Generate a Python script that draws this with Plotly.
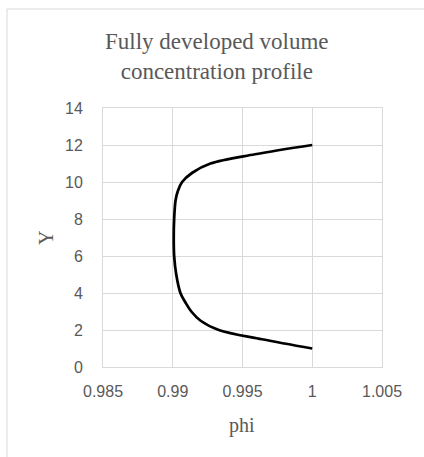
import plotly.graph_objects as go

# Data
y_vals = [1, 1.5, 2, 2.5, 3, 3.5, 4, 5, 6, 7, 8, 9, 9.5, 10, 10.5, 11, 11.5, 12]
phi_vals = [1.0, 0.9964, 0.9933, 0.9920, 0.99133, 0.9909, 0.99055, 0.99025, 0.9901,
            0.99007, 0.9901, 0.9902, 0.99036, 0.99067, 0.9914, 0.9927, 0.9959, 1.0]

x_ticks = [0.985, 0.99, 0.995, 1, 1.005]
x_ticktext = ["0.985", "0.99", "0.995", "1", "1.005"]
y_ticks = [0, 2, 4, 6, 8, 10, 12, 14]

W, H = 424, 457
L, R, T, B = 103, 42, 108, 90
pw, ph = W - L - R, H - T - B

def px(x):
    return (x - L) / pw

def py(y):
    return (H - B - y) / ph

fig = go.Figure()
fig.add_trace(go.Scatter(
    x=phi_vals, y=y_vals, mode="lines",
    line=dict(color="black", width=2.75, shape="spline", smoothing=1.0),
    showlegend=False, hoverinfo="skip"))

grid = "#d9d9d9"
tickfont = dict(family="Liberation Sans, Arial, sans-serif", size=16, color="#595959")
fig.update_xaxes(range=[0.985, 1.005], tickvals=x_ticks, ticktext=x_ticktext,
                 showgrid=True, gridcolor=grid, gridwidth=1, zeroline=False,
                 showline=True, linecolor=grid, linewidth=1, mirror=True,
                 ticks="", tickfont=tickfont, ticklabelstandoff=10)
fig.update_yaxes(range=[0, 14], tickvals=y_ticks,
                 showgrid=True, gridcolor=grid, gridwidth=1, zeroline=False,
                 showline=True, linecolor=grid, linewidth=1, mirror=True,
                 ticks="", tickfont=tickfont, ticklabelstandoff=16)

serif = "Liberation Serif, Times New Roman, serif"
fig.add_annotation(text="Fully developed volume<br>concentration profile",
                   x=px(217), y=py(57), xref="paper", yref="paper",
                   showarrow=False, xanchor="center", yanchor="middle",
                   font=dict(family=serif, size=23, color="#595959"))
fig.add_annotation(text="Y", x=px(46), y=py(238), xref="paper", yref="paper",
                   showarrow=False, textangle=-90, xanchor="center", yanchor="middle",
                   font=dict(family=serif, size=20, color="#595959"))
fig.add_annotation(text="phi", x=px(242), y=py(425), xref="paper", yref="paper",
                   showarrow=False, xanchor="center", yanchor="middle",
                   font=dict(family=serif, size=20, color="#595959"))

fig.add_shape(type="rect", xref="paper", yref="paper",
              x0=px(7), x1=px(600), y0=py(700), y1=py(9),
              line=dict(color="#d9d9d9", width=1), layer="below")

fig.update_layout(width=W, height=H, margin=dict(l=L, r=R, t=T, b=B),
                  plot_bgcolor="white", paper_bgcolor="white")

fig.write_html("out.html", config={"displayModeBar": False},
               post_script="document.body.style.margin='0';")
